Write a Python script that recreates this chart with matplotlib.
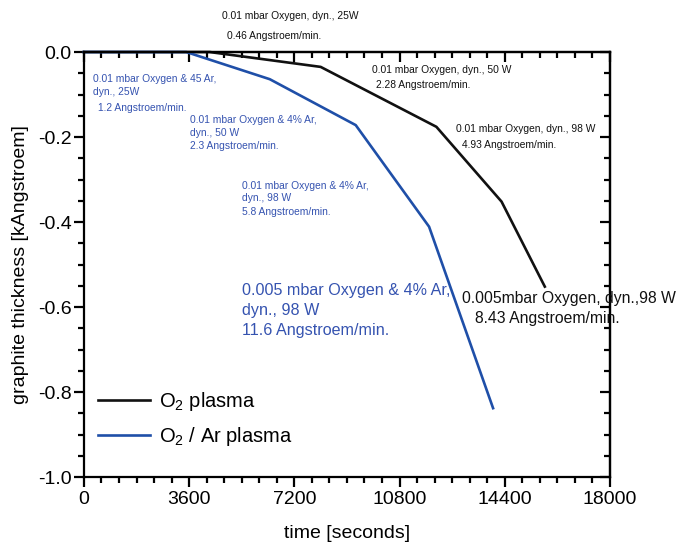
import matplotlib
matplotlib.use("Agg")
import matplotlib.pyplot as plt
from matplotlib.ticker import MultipleLocator

plt.rcParams['font.family'] = ['Liberation Sans', 'DejaVu Sans']
plt.rcParams['mathtext.fontset'] = 'custom'
plt.rcParams['mathtext.rm'] = 'Liberation Sans'

# O2 plasma
time_o2 = [0, 4300, 8100, 12060, 14290, 15770]
thick_o2 = [0, 0, -0.035, -0.176, -0.352, -0.552]

# O2 / Ar plasma
time_ar = [0, 3500, 6360, 9300, 11810, 14000]
thick_ar = [0, 0, -0.064, -0.172, -0.411, -0.838]

x_ticks = [0, 3600, 7200, 10800, 14400, 18000]
y_ticks = [0.0, -0.2, -0.4, -0.6, -0.8, -1.0]

black = "#111111"
blue = "#1f4fa8"
blue_txt = "#3553b0"

fig = plt.figure(figsize=(6.77, 5.43), dpi=100)
ax = fig.add_axes([0.124, 0.1215, 0.777, 0.7827])

ax.plot(time_o2, thick_o2, color=black, lw=1.9, label=r"O$_2$ plasma", clip_on=False)
ax.plot(time_ar, thick_ar, color=blue, lw=1.9, label=r"O$_2$ / Ar plasma", clip_on=False)

ax.set_xlim(0, 18000)
ax.set_ylim(-1.0, 0.0)
ax.set_xticks(x_ticks)
ax.set_yticks(y_ticks)
ax.set_yticklabels(["%.1f" % v for v in y_ticks])
ax.xaxis.set_minor_locator(MultipleLocator(600))
ax.yaxis.set_minor_locator(MultipleLocator(0.05))

for s in ax.spines.values():
    s.set_linewidth(1.6)

ax.tick_params(which="both", labelsize=14, width=1.6, direction="out")
ax.tick_params(which="major", length=7)
ax.tick_params(which="minor", length=4)
ax.tick_params(axis="x", pad=3)
ax.tick_params(axis="y", pad=2)

# inward ticks on top and right
top = ax.secondary_xaxis("top")
top.set_xticks(x_ticks)
top.xaxis.set_minor_locator(MultipleLocator(600))
top.tick_params(which="both", direction="in", width=1.6, labeltop=False)
top.tick_params(which="major", length=7)
top.tick_params(which="minor", length=4)
right = ax.secondary_yaxis("right")
right.set_yticks(y_ticks)
right.yaxis.set_minor_locator(MultipleLocator(0.05))
right.tick_params(which="both", direction="in", width=1.6, labelright=False)
right.tick_params(which="major", length=7)
right.tick_params(which="minor", length=4)
for s in list(top.spines.values()) + list(right.spines.values()):
    s.set_linewidth(1.6)

ax.set_xlabel("time [seconds]", fontsize=14, labelpad=12)
ax.set_ylabel("graphite thickness [kAngstroem]", fontsize=14, labelpad=6)

# annotations (figure pixel coordinates -> fraction)
W, H = 677.0, 543.0
def note(x, y, s, size=7.4, color=black):
    fig.text(x / W, 1 - y / H, s, fontsize=size, color=color, ha="left", va="center")

note(222, 16, "0.01 mbar Oxygen, dyn., 25W")
note(227, 36, "0.46 Angstroem/min.")
note(372, 70, "0.01 mbar Oxygen, dyn., 50 W")
note(376, 85, "2.28 Angstroem/min.")
note(456, 129, "0.01 mbar Oxygen, dyn., 98 W")
note(462, 145, "4.93 Angstroem/min.")
note(462, 298, "0.005mbar Oxygen, dyn.,98 W", size=11.3)
note(475, 318, "8.43 Angstroem/min.", size=11.3)

note(93, 79, "0.01 mbar Oxygen & 45 Ar,", color=blue_txt)
note(93, 92, "dyn., 25W", color=blue_txt)
note(98, 108, "1.2 Angstroem/min.", color=blue_txt)
note(190, 120, "0.01 mbar Oxygen & 4% Ar,", color=blue_txt)
note(190, 133, "dyn., 50 W", color=blue_txt)
note(190, 146, "2.3 Angstroem/min.", color=blue_txt)
note(242, 186, "0.01 mbar Oxygen & 4% Ar,", color=blue_txt)
note(242, 198, "dyn., 98 W", color=blue_txt)
note(242, 212, "5.8 Angstroem/min.", color=blue_txt)
note(242, 290, "0.005 mbar Oxygen & 4% Ar,", size=11.6, color=blue_txt)
note(242, 310, "dyn., 98 W", size=11.6, color=blue_txt)
note(242, 331, "11.6 Angstroem/min.", size=11.6, color=blue_txt)

ax.legend(loc="upper left", bbox_to_anchor=(0.0, 0.237), frameon=False,
          fontsize=14.5, handlelength=2.6, handletextpad=0.45, labelspacing=0.6,
          borderaxespad=0.3)

fig.savefig("out.png", dpi=100)
